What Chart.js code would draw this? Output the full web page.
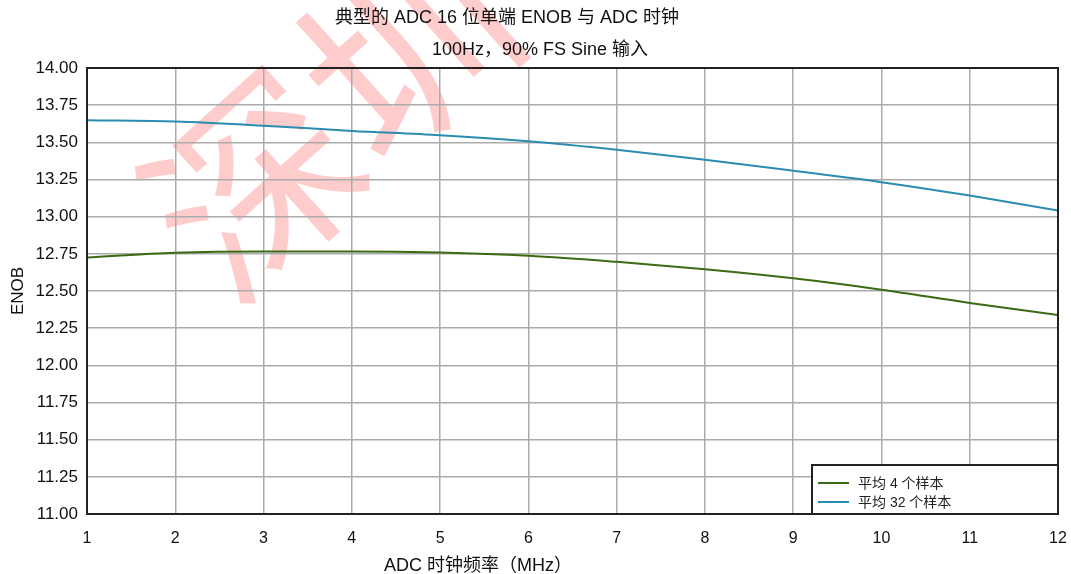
<!DOCTYPE html>
<html>
<head>
<meta charset="utf-8">
<script src="https://cdn.jsdelivr.net/npm/chart.js@4/dist/chart.umd.min.js"></script>
<style>
    html, body { margin: 0; padding: 0; background: #fff; }
    #wrap { width: 1071px; height: 574px; }
</style>
</head>
<body>
<div id="wrap"><canvas id="enob" width="1071" height="574"></canvas></div>
<script>
// data
const clock_mhz = [1, 2, 3, 4, 5, 6, 7, 8, 9, 10, 11, 12]
const enob_avg4 = [12.725, 12.757, 12.766, 12.766, 12.759, 12.737, 12.696, 12.646, 12.585, 12.509, 12.42, 12.339]
const enob_avg32 = [13.648, 13.64, 13.612, 13.577, 13.548, 13.507, 13.45, 13.383, 13.309, 13.232, 13.142, 13.042]
const series_names = ['平均 4 个样本', '平均 32 个样本']
const title_lines = ['典型的 ADC 16 位单端 ENOB 与 ADC 时钟', '100Hz，90% FS Sine 输入']
const x_title = 'ADC 时钟频率（MHz）'
const y_title = 'ENOB'
const watermark = '深圳'

const font_family = '"Liberation Sans", Arial, "Noto Sans CJK SC", sans-serif'

function to_points(values) {
    return clock_mhz.map((x, i) => ({ x: x, y: values[i] }))
}

// titles, frame, legend and watermark drawn by hand
const decor = {
    id: 'decor',
    beforeDraw(chart) {
        const ctx = chart.ctx
        ctx.save()
        ctx.translate(330, 115)
        ctx.rotate(-42 * Math.PI / 180)
        ctx.font = `205px "Noto Sans CJK SC", sans-serif`
        ctx.fillStyle = 'rgba(255, 0, 0, 0.2)'
        ctx.textAlign = 'center'
        ctx.textBaseline = 'middle'
        ctx.fillText(watermark, 0, 0)
        ctx.restore()
    },
    afterDraw(chart) {
        const ctx = chart.ctx
        const area = chart.chartArea
        ctx.save()

        ctx.strokeStyle = '#222'
        ctx.lineWidth = 2
        ctx.strokeRect(area.left, area.top, area.right - area.left, area.bottom - area.top)

        ctx.fillStyle = '#111'
        ctx.textAlign = 'center'
        ctx.textBaseline = 'middle'
        ctx.font = `18px ${font_family}`
        ctx.fillText(title_lines[0], 507, 18)
        ctx.fillText(title_lines[1], 540, 50)
        ctx.fillText(x_title, 478, 566)

        // legend box in lower right corner
        const box_w = 246
        const box_h = 49
        const bx = area.right - box_w
        const by = area.bottom - box_h
        ctx.fillStyle = '#fff'
        ctx.fillRect(bx, by, box_w, box_h)
        ctx.strokeStyle = '#222'
        ctx.lineWidth = 2
        ctx.strokeRect(bx, by, box_w, box_h)

        ctx.font = `14px ${font_family}`
        ctx.textAlign = 'left'
        chart.data.datasets.forEach((ds, i) => {
            const ly = by + 18 + i * 19
            ctx.strokeStyle = ds.borderColor
            ctx.lineWidth = 2
            ctx.beginPath()
            ctx.moveTo(bx + 6, ly)
            ctx.lineTo(bx + 37, ly)
            ctx.stroke()
            ctx.fillStyle = '#222'
            ctx.fillText(ds.label, bx + 46, ly + 1)
        })
        ctx.restore()
    }
}

const config = {
    type: 'line',
    data: {
        datasets: [{
            label: series_names[0],
            data: to_points(enob_avg4),
            borderColor: '#3b6a12',
            borderWidth: 2,
            pointRadius: 0,
            cubicInterpolationMode: 'monotone'
        },
        {
            label: series_names[1],
            data: to_points(enob_avg32),
            borderColor: '#2a8cb0',
            borderWidth: 2,
            pointRadius: 0,
            cubicInterpolationMode: 'monotone'
        }]
    },
    options: {
        responsive: false,
        animation: false,
        devicePixelRatio: 1,
        layout: {
            padding: { top: 68, right: 13, left: 0, bottom: 0 }
        },
        plugins: {
            legend: { display: false },
            title: { display: false },
            tooltip: { enabled: false }
        },
        scales: {
            x: {
                type: 'linear',
                min: 1,
                max: 12,
                ticks: {
                    stepSize: 1,
                    padding: 15,
                    color: '#111',
                    font: { size: 16, family: font_family }
                },
                grid: {
                    color: '#ababab',
                    lineWidth: 1.5,
                    drawTicks: false
                },
                border: { display: false },
                afterFit: (scale) => {
                    scale.height = 60
                    scale.paddingLeft = 0
                    scale.paddingRight = 0
                }
            },
            y: {
                min: 11,
                max: 14,
                ticks: {
                    stepSize: 0.25,
                    padding: 9,
                    color: '#111',
                    font: { size: 17, family: font_family },
                    callback: (v) => v.toFixed(2)
                },
                grid: {
                    color: '#ababab',
                    lineWidth: 1.5,
                    drawTicks: false
                },
                border: { display: false },
                title: {
                    display: true,
                    text: y_title,
                    color: '#111',
                    padding: { top: 8, bottom: 0 },
                    font: { size: 17, family: font_family }
                },
                afterFit: (scale) => {
                    scale.width = 87
                    scale.paddingTop = 0
                    scale.paddingBottom = 0
                }
            }
        }
    },
    plugins: [decor]
}

new Chart(document.getElementById('enob'), config)
</script>
</body>
</html>
